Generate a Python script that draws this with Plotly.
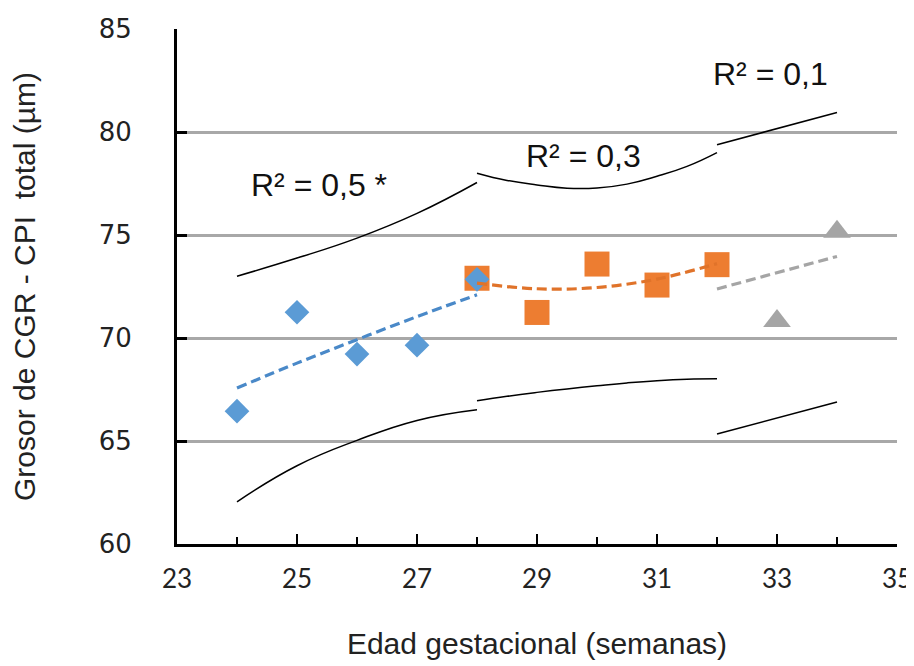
import plotly.graph_objects as go

# ---- data ----
weeks_a = [24, 25, 26, 27, 28]
grosor_a = [66.45, 71.25, 69.22, 69.65, 72.85]
weeks_b = [28, 29, 30, 31, 32]
grosor_b = [72.9, 71.24, 73.59, 72.57, 73.56]
weeks_c = [33, 34]
grosor_c = [70.82, 75.16]

trend_a_x = [24, 25, 26, 27, 28]
trend_a_y = [67.57, 68.78, 69.92, 71.04, 72.1]
trend_b_x = [28, 29, 30, 31, 32]
trend_b_y = [72.66, 72.39, 72.45, 72.86, 73.61]
trend_c_x = [32, 34]
trend_c_y = [72.38, 73.96]

band_a_x = [24, 25, 26, 27, 28]
band_a_up = [73.0, 73.88, 74.85, 76.05, 77.55]
band_a_lo = [62.05, 63.8, 65.03, 66.0, 66.52]
band_b_x = [28, 28.5, 29, 29.5, 30, 30.5, 31, 31.5, 32]
band_b_up = [78.0, 77.65, 77.43, 77.27, 77.28, 77.47, 77.85, 78.33, 79.0]
band_b_lo = [66.95, 67.17, 67.36, 67.53, 67.68, 67.82, 67.93, 68.0, 68.02]
band_c_x = [32, 34]
band_c_up = [79.38, 80.95]
band_c_lo = [65.34, 66.89]

r2_labels = ["R² = 0,5 *", "R² = 0,3", "R² = 0,1"]
r2_x = [24.2, 28.78, 31.9]
r2_y = [77.43, 78.85, 82.82]

x_ticks = [23, 25, 27, 29, 31, 33, 35]
y_ticks = [60, 65, 70, 75, 80, 85]

BLUE = "#5b9bd5"
ORANGE = "#ed7d31"
GRAY = "#a5a5a5"

fig = go.Figure()

# confidence bands (thin black)
for bx, bys in [(band_a_x, [band_a_up, band_a_lo]),
                (band_b_x, [band_b_up, band_b_lo]),
                (band_c_x, [band_c_up, band_c_lo])]:
    for by in bys:
        fig.add_trace(go.Scatter(x=bx, y=by, mode="lines",
                                 line=dict(color="black", width=1.5, shape="spline", smoothing=1.3),
                                 showlegend=False, hoverinfo="skip"))

# markers: orange, grey, then blue on top
fig.add_trace(go.Scatter(x=weeks_b, y=grosor_b, mode="markers",
                         marker=dict(symbol="square", size=25, color=ORANGE),
                         showlegend=False))
fig.add_trace(go.Scatter(x=weeks_c, y=grosor_c, mode="markers",
                         marker=dict(symbol="triangle-up", size=24, color=GRAY),
                         showlegend=False))
fig.add_trace(go.Scatter(x=weeks_a, y=grosor_a, mode="markers",
                         marker=dict(symbol="diamond", size=19, color=BLUE),
                         showlegend=False))

# trend lines (dashed)
for tx, ty, col in [(trend_a_x, trend_a_y, "#4a89c8"),
                    (trend_b_x, trend_b_y, "#e0732a"),
                    (trend_c_x, trend_c_y, GRAY)]:
    fig.add_trace(go.Scatter(x=tx, y=ty, mode="lines",
                             line=dict(color=col, width=3.2, dash="10px,5px", shape="spline"),
                             showlegend=False, hoverinfo="skip"))

for t, x, y in zip(r2_labels, r2_x, r2_y):
    fig.add_annotation(x=x, y=y, text=t, showarrow=False, xanchor="left", yanchor="middle",
                       font=dict(family="Liberation Sans, Arial", size=32, color="#111"))

# page body has an 8px margin, so the figure is sized/offset to compensate
fig.update_layout(
    width=906, height=658,
    margin=dict(l=169, r=17, t=21, b=122),
    paper_bgcolor="white", plot_bgcolor="white",
    showlegend=False,
)
fig.update_xaxes(
    range=[23, 35], tickmode="array", tickvals=x_ticks, ticktext=[str(v) for v in x_ticks],
    automargin=False,
    showgrid=False, zeroline=False,
    showline=True, linecolor="black", linewidth=3,
    ticks="inside", ticklen=10, tickwidth=2, tickcolor="black",
    minor=dict(dtick=1, tick0=23, ticks="inside", ticklen=7, tickwidth=2, tickcolor="black", showgrid=False),
    tickfont=dict(family="Lato, Carlito, sans-serif", size=26, color="#222"),
    ticklabelstandoff=10,
    title=dict(text="Edad gestacional (semanas)", standoff=40,
               font=dict(family="Liberation Sans, Arial", size=30, color="#222")),
)
fig.update_yaxes(
    range=[60, 85], tickmode="array", tickvals=y_ticks, ticktext=[str(v) for v in y_ticks],
    automargin=False,
    showgrid=True, gridcolor="#a8a8a8", gridwidth=2.5, zeroline=False,
    showline=True, linecolor="black", linewidth=3,
    ticks="inside", ticklen=10, tickwidth=3, tickcolor="black",
    tickfont=dict(family="DejaVu Sans, Verdana", size=26, color="#222"),
    ticklabelstandoff=37,
    title=dict(text="Grosor de CGR - CPI  total (µm)", standoff=55,
               font=dict(family="Liberation Sans, Arial", size=30, color="#222")),
)

fig.write_html("out.html")
